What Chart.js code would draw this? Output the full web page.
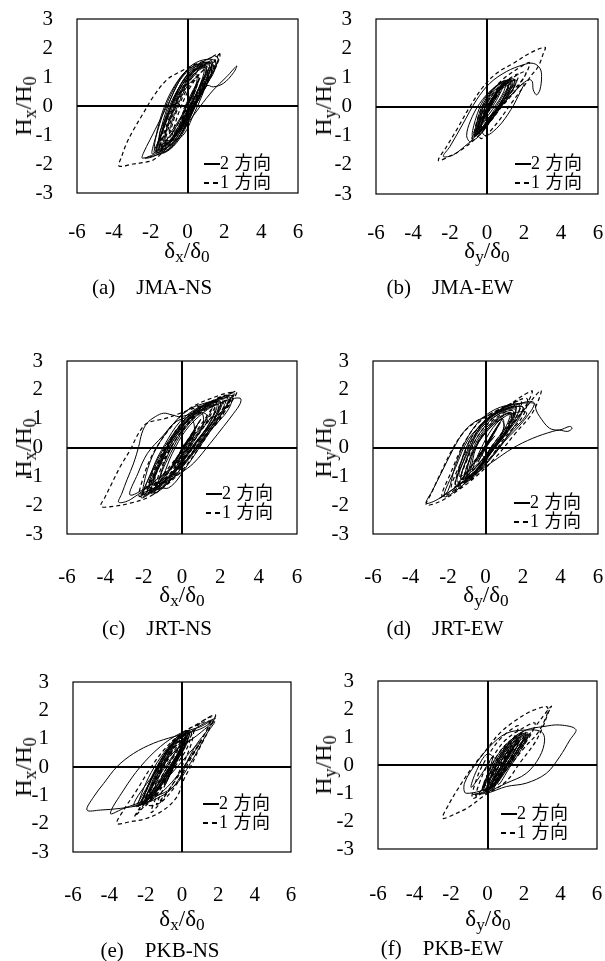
<!DOCTYPE html>
<html lang="ja">
<head>
<meta charset="UTF-8">
<title>復元力特性 - 2方向 / 1方向</title>
<script src="https://cdn.jsdelivr.net/npm/chart.js"></script>
<style>
  body {
    margin: 0;
    background: #fff;
    width: 605px;
    height: 961px;
    position: relative;
    overflow: hidden;
    font-family: 'Liberation Serif', 'Noto Sans CJK JP', serif;
    color: #000;
  }
  canvas { position: absolute; }
  .lab { position: absolute; white-space: nowrap; line-height: 1; }
  .ylab { font-size: 24px; transform: translate(-50%, -50%) rotate(-90deg); }
  .xlab { font-size: 23px; transform: translate(-50%, -50%); }
  .ttl { font-size: 21px; transform: translate(-50%, -50%); white-space: pre; }
  sub { font-size: 0.75em; vertical-align: -0.28em; line-height: 0; }
  .leg { position: absolute; font-size: 18px; line-height: 19px; white-space: nowrap; letter-spacing: 0.5px; }
  .leg div { display: flex; align-items: center; }
</style>
</head>
<body>
<script>
// 軸の範囲と目盛
const xRange = [-6, 6], xStep = 2;
const yRange = [-3, 3], yStep = 1;
const seriesNames = ['2 方向', '1 方向'];
const panelTitles = ['(a)    JMA-NS', '(b)    JMA-EW', '(c)    JRT-NS', '(d)    JRT-EW', '(e)    PKB-NS', '(f)    PKB-EW'];
const dirs = ['x', 'y', 'x', 'y', 'x', 'y'];

// [δ/δ0, H/H0] — 図から読み取った値
const jmaNS_2 = [[0,0],[0.4,0.5],[-0.2,-0.1],[0.6,0.9],[0.1,0.2],[-0.7,-0.8],
  [-1.9,-1.65],[-1.7,-1.0],[-1.3,-0.1],[-0.7,0.7],[0.1,1.3],[1.1,1.5],[1.2,1.2],[0.6,0.3],[0.0,-0.5],[-0.6,-1.2],[-1.3,-1.6],
  [-1.6,-1.4],[-1.4,-0.7],[-1.0,0.1],[-0.4,0.9],[0.4,1.35],[1.3,1.45],[0.9,0.8],[0.3,-0.1],[-0.3,-0.9],[-1.0,-1.5],
  [-2.44,-1.8],[-2.4,-1.63],[-2.04,-1.17],[-1.49,-0.48],[-0.95,0.2],[-0.41,0.9],[0.14,1.36],[0.86,1.59],[1.49,1.56],[1.45,1.2],[1.1,0.8],[0.5,0.1],[-0.3,-0.8],[-1.1,-1.45],[-1.9,-1.75],[-2.3,-1.8],
  [-1.49,-1.57],[-0.59,-1.17],[-0.05,-0.66],[0.68,-0.02],[1.4,0.55],[2.13,1.01],[2.67,1.38],[2.5,1.15],[1.95,0.78],[1.4,0.66],[1.05,0.7],
  [0.5,0.1],[-0.4,-1.1],[-1.2,-1.6],[-1.7,-1.55],[-1.2,-0.6],[-0.7,0.3],[0.0,1.1],[0.9,1.5],[1.4,1.35],[1.0,0.7],[0.4,-0.2],[-0.4,-1.1],
  [-1.5,-1.1],[-1.1,-0.3],[-0.5,0.5],[0.3,1.2],[1.0,1.3],[0.7,0.6],[0.1,-0.2],[-0.6,-1.0],[-1.4,-1.45],
  [-1.8,-1.5],[-1.5,-0.6],[-0.9,0.4],[-0.2,1.1],[0.7,1.45],[1.1,1.1],[0.5,0.1],[-0.2,-0.8],[-0.9,-1.35],
  [-1.6,-1.5],[-1.3,-0.8],[-0.9,0.0],[-0.3,0.8],[0.5,1.3],[1.2,1.4],[0.8,0.9],[0.2,0.0],[-0.5,-0.9],[-1.2,-1.45],
  [-1.7,-1.6],[-1.4,-0.9],[-1.1,-0.2],[-0.5,0.6],[0.2,1.2],[1.0,1.4],[0.9,1.0],[0.3,0.2],[-0.3,-0.6],[-1.0,-1.3],
  [-1.5,-1.35],[-1.2,-0.5],[-0.7,0.2],[-0.1,0.9],[0.7,1.35],[1.15,1.3],[0.7,0.7],[0.0,-0.2],[-0.7,-1.0],[-1.4,-1.5],
  [-1.3,-1.2],[-1.0,-0.5],[-0.5,0.3],[0.2,1.0],[0.9,1.3],[0.6,0.6],[-0.1,-0.3],[-0.8,-1.1],
  [-1.8,-1.6],[-1.5,-1.1],[-1.0,-0.3],[-0.4,0.5],[0.4,1.2],[1.3,1.5],[1.1,1.0],[0.4,0.1],[-0.4,-0.9],[-1.1,-1.5],
  [-1.2,-1.0],[-0.8,-0.2],[-0.2,0.6],[0.5,1.1],[0.4,0.6],[-0.2,-0.2],[-0.9,-0.9],
  [-1.0,-0.9],[-0.6,-0.1],[0.0,0.7],[0.6,1.0],[0.3,0.3],[-0.3,-0.5],[0,0.1]];
const jmaNS_1 = [[0,0],[0.5,0.7],[-0.3,-0.3],[0.7,1.0],[-0.5,-0.6],
  [-1.5,-1.5],[-1.3,-0.8],[-0.8,0.1],[-0.1,0.9],[0.8,1.5],[1.6,1.7],[1.5,1.3],[0.9,0.6],[0.2,-0.2],[-0.6,-1.0],
  [-1.2,-1.3],[-0.9,-0.5],[-0.4,0.3],[0.4,1.1],[1.3,1.55],[1.2,1.0],[0.5,0.2],[-0.2,-0.6],[-0.9,-1.2],
  [1.67,1.76],[1.55,1.35],[1.1,0.9],[0.4,0.1],[-0.4,-0.8],[-1.2,-1.5],[-1.86,-1.86],[-2.4,-1.95],[-2.94,-2.0],[-3.72,-2.07],[-3.58,-1.75],[-3.31,-1.29],[-2.94,-0.83],[-2.4,-0.25],[-1.86,0.32],[-1.13,0.9],[-0.41,1.18],[0.32,1.41],[1.04,1.59],[1.75,1.8],
  [1.5,1.3],[1.0,0.8],[0.2,-0.1],[-0.6,-0.9],[-1.6,-1.6],[-1.0,-0.6],[-0.4,0.4],[0.5,1.2],[1.5,1.6],[1.1,0.8],[0.3,-0.1],[-0.6,-1.0],
  [-1.4,-1.4],[-1.1,-0.6],[-0.6,0.2],[0.1,1.0],[1.0,1.5],[1.4,1.4],[0.9,0.7],[0.2,-0.1],[-0.6,-0.9],[-1.3,-1.4],
  [-1.0,-1.0],[-0.6,-0.2],[0.0,0.6],[0.8,1.2],[1.2,1.2],[0.6,0.5],[-0.1,-0.3],[-0.8,-1.0],
  [-0.8,-0.9],[-0.4,-0.1],[0.2,0.7],[1.0,1.3],[0.8,0.7],[0.1,-0.1],[-0.5,-0.8],[0,0]];

const jmaEW_2 = [[0,0],[0.5,0.4],[-0.2,-0.4],[0.7,0.5],[0.1,-0.1],[-0.5,-0.8],
  [-0.8,-1.0],[-0.6,-0.4],[-0.2,0.2],[0.5,0.7],[1.4,0.95],[1.5,0.7],[0.9,0.2],[0.3,-0.4],[-0.3,-0.9],
  [-0.6,-0.9],[-0.4,-0.2],[0.1,0.4],[0.8,0.85],[1.2,0.8],[0.8,0.2],[0.2,-0.4],[-0.4,-1.0],
  [-1.0,-1.26],[-1.82,-1.66],[-2.36,-1.71],[-2.0,-1.37],[-1.28,-0.57],[-0.56,0.23],[0.16,0.8],[1.06,1.2],[1.96,1.43],[2.5,1.48],[2.86,1.31],[2.95,1.03],[2.86,0.57],[2.68,0.4],[2.5,0.57],[2.45,0.85],[2.3,0.92],[1.96,0.8],[1.24,0.34],[0.52,-0.11],[-0.2,-0.57],
  [-0.9,-1.2],[-1.1,-1.0],[-0.9,-0.5],[-0.4,0.1],[0.3,0.6],[0.9,0.8],[0.5,0.2],[-0.3,-0.6],[-0.1,-1.0],[0.6,-0.7],[1.3,-0.1],[1.8,0.5],[2.0,0.8],[1.6,0.6],[0.9,0.1],[0.2,-0.5],
  [-0.7,-1.05],[-0.3,-0.5],[0.2,0.2],[0.9,0.7],[1.6,0.9],[1.2,0.4],[0.5,-0.2],[-0.1,-0.7],
  [-0.7,-1.0],[-0.5,-0.5],[-0.1,0.1],[0.5,0.6],[1.2,0.9],[1.3,0.7],[0.8,0.2],[0.2,-0.4],[-0.4,-0.9],
  [-0.5,-0.9],[-0.3,-0.3],[0.2,0.3],[0.8,0.7],[1.5,0.9],[1.1,0.4],[0.5,-0.1],[-0.1,-0.6],[-0.6,-1.0],
  [-0.4,-0.8],[-0.1,-0.2],[0.4,0.4],[1.0,0.8],[1.1,0.6],[0.6,0.0],[0.0,-0.5],[-0.5,-0.9],
  [-0.6,-0.9],[-0.2,-0.3],[0.3,0.3],[0.9,0.8],[1.4,0.85],[1.0,0.3],[0.4,-0.2],[-0.2,-0.8],
  [-0.3,-0.6],[0.1,0.0],[0.7,0.6],[1.2,0.8],[0.7,0.2],[0.1,-0.4],[-0.4,-0.8],
  [-0.5,-0.7],[-0.2,0.0],[0.4,0.6],[1.0,0.9],[0.9,0.5],[0.3,-0.1],[-0.3,-0.6],
  [-0.6,-0.8],[0.0,-0.1],[0.6,0.5],[1.3,0.75],[0.7,0.1],[0.0,-0.5],[0.1,0]];
const jmaEW_1 = [[0,0],[0.6,0.5],[-0.2,-0.3],[0.8,0.7],[0.3,0.1],[-0.4,-0.7],
  [-0.7,-1.0],[-0.5,-0.4],[0.0,0.3],[0.8,0.9],[1.8,1.35],[2.3,1.5],[2.0,1.0],[1.2,0.4],[0.4,-0.3],[-0.3,-0.9],
  [-1.3,-1.45],[-2.0,-1.7],[-2.63,-1.85],[-2.18,-1.37],[-1.64,-0.8],[-0.92,0],[-0.2,0.68],[0.52,1.14],[1.42,1.48],[2.32,1.83],[3.14,2.03],[3.05,1.83],[2.77,1.37],[2.41,1.08],[2.0,0.7],[1.3,0.1],[0.5,-0.6],[-0.3,-1.1],
  [-0.5,-0.8],[-0.2,-0.1],[0.4,0.5],[1.1,0.9],[1.5,0.9],[1.0,0.3],[0.3,-0.3],[-0.3,-0.8],
  [-0.6,-0.9],[-0.3,-0.3],[0.3,0.3],[0.9,0.8],[1.7,1.1],[1.3,0.5],[0.6,-0.1],[-0.1,-0.7],
  [-0.4,-0.8],[0.0,-0.2],[0.6,0.5],[1.3,0.9],[0.9,0.3],[0.2,-0.4],
  [-0.8,-1.1],[-0.4,-0.5],[0.2,0.2],[1.0,0.8],[2.1,1.2],[1.6,0.6],[0.8,0.0],[0.0,-0.6],[0,0]];

const jrtNS_2 = [[0,0],[0.6,0.5],[-0.4,-0.5],[0.9,0.9],[-0.7,-0.8],
  [-2.0,-1.7],[-1.9,-1.0],[-1.4,-0.1],[-0.6,0.7],[0.3,1.3],[1.5,1.6],[2.6,1.8],[2.4,1.3],[1.5,0.6],[0.6,-0.2],[-0.4,-1.0],[-1.3,-1.55],
  [-1.7,-1.5],[-1.5,-0.7],[-0.9,0.1],[-0.1,0.9],[0.9,1.4],[2.0,1.6],[1.8,1.1],[1.0,0.3],[0.2,-0.5],[-0.7,-1.2],
  [-1.3,-1.2],[-2.7,-1.65],[-2.3,-0.9],[-1.8,-0.2],[-1.0,0.4],[-0.3,0.9],[0.5,1.0],[0.6,0.4],[-0.1,-0.4],[-1.3,-1.1],
  [-2.7,-1.81],[-3.3,-1.9],[-3.13,-1.58],[-2.87,-1.12],[-2.52,-0.54],[-2.26,0.03],[-2.09,0.5],[-1.83,0.84],[-1.39,1.07],[-0.96,1.19],[-0.52,1.13],[-0.09,1.07],[0.6,1.2],[1.5,1.4],[2.4,1.65],[3.04,1.71],[3.04,1.53],[2.7,1.19],[2.17,0.73],[1.48,0.15],[0.61,-0.54],[-0.09,-0.89],[-0.96,-1.23],[-1.83,-1.52],[-2.2,-1.6],
  [-1.9,-1.6],[-1.2,-0.6],[-0.4,0.3],[0.5,1.1],[1.6,1.6],[2.4,1.7],[2.1,1.2],[1.2,0.3],[0.3,-0.6],[-0.7,-1.4],
  [-1.4,-1.2],[-1.0,-0.3],[-0.3,0.6],[0.7,1.3],[1.7,1.4],[1.3,0.7],[0.4,-0.1],[-0.5,-0.9],
  [-2.1,-1.75],[-1.6,-0.9],[-0.8,0.0],[0.2,0.9],[1.2,1.5],[2.2,1.5],[1.6,0.8],[0.7,-0.1],[-0.3,-0.8],[-1.2,-1.4],
  [-1.8,-1.55],[-1.4,-0.8],[-0.8,0.0],[0.0,0.8],[1.0,1.3],[2.1,1.7],[1.9,1.2],[1.1,0.5],[0.2,-0.3],[-0.8,-1.1],[-1.6,-1.6],
  [-1.6,-1.4],[-1.2,-0.6],[-0.5,0.3],[0.4,1.0],[1.4,1.45],[2.5,1.75],[2.2,1.3],[1.3,0.5],[0.4,-0.3],[-0.6,-1.0],[-1.5,-1.5],
  [-1.3,-1.3],[-0.9,-0.5],[-0.2,0.4],[0.7,1.1],[1.8,1.5],[1.5,0.9],[0.6,0.1],[-0.3,-0.7],[-1.2,-1.3],
  [-2.0,-1.65],[-1.7,-1.0],[-1.1,-0.2],[-0.3,0.6],[0.6,1.2],[1.6,1.6],[1.4,1.1],[0.5,0.3],[-0.4,-0.6],[-1.3,-1.3],
  [-1.0,-1.0],[-0.5,-0.2],[0.2,0.6],[1.1,1.2],[1.9,1.5],[1.6,0.9],[0.8,0.2],[-0.1,-0.6],[-1.0,-1.2],
  [-1.5,-1.2],[-1.0,-0.4],[-0.2,0.5],[0.8,1.2],[1.3,1.1],[0.5,0.2],[-0.4,-0.6],
  [-1.1,-1.0],[-0.6,-0.2],[0.1,0.6],[1.0,1.2],[1.1,0.8],[0.4,0.0],[-0.4,-0.7],[0,0]];
const jrtNS_1 = [[0,0],[0.7,0.6],[-0.5,-0.6],[1.0,1.0],[-0.8,-0.9],
  [-2.2,-1.7],[-2.0,-1.0],[-1.5,-0.2],[-0.7,0.6],[0.3,1.3],[1.5,1.7],[2.7,1.9],[2.3,1.4],[1.4,0.6],[0.4,-0.3],[-0.6,-1.1],[-1.5,-1.6],
  [2.5,1.85],[2.87,1.94],[2.5,1.5],[1.8,0.9],[0.9,0.0],[0.0,-0.8],[-1.0,-1.4],[-1.83,-1.75],[-2.7,-1.93],[-3.57,-2.04],[-4.23,-2.04],[-4.0,-1.7],[-3.65,-1.23],[-3.22,-0.66],[-2.7,-0.08],[-2.26,0.5],[-1.83,0.84],[-0.9,1.0],[-0.09,1.19],[1.3,1.53],[2.35,1.82],[2.7,1.9],
  [2.0,1.2],[1.0,0.4],[0.0,-0.5],[-0.9,-1.3],[-1.8,-1.5],[-1.4,-0.7],[-0.7,0.2],[0.2,1.0],[1.3,1.5],[2.3,1.8],[2.0,1.2],
  [1.5,1.0],[0.6,0.2],[-0.3,-0.7],[-1.5,-1.3],[-1.0,-0.4],[-0.3,0.5],[0.7,1.2],[1.8,1.6],
  [1.0,0.6],[0.0,-0.3],[-1.0,-1.2],[-2.0,-1.6],[-1.2,-0.7],[-0.4,0.2],[0.6,1.0],[1.6,1.4],
  [-1.6,-1.4],[-1.2,-0.5],[-0.4,0.4],[0.6,1.1],[1.7,1.6],[2.5,1.8],[2.1,1.1],[1.1,0.3],[0.1,-0.5],[-0.9,-1.2],
  [-1.3,-1.2],[-0.8,-0.3],[0.0,0.6],[1.0,1.3],[2.0,1.6],[1.6,0.9],[0.6,0.0],[-0.4,-0.8],[0.6,0.4],[0,0]];

const jrtEW_2 = [[0,0],[0.5,0.6],[-0.4,-0.5],[0.8,0.9],[-0.8,-0.7],
  [-1.5,-1.2],[-1.3,-0.5],[-0.8,0.3],[-0.1,0.9],[0.8,1.3],[1.8,1.5],[1.6,1.0],[0.8,0.3],[0.0,-0.4],[-0.8,-1.0],
  [-1.0,-1.0],[-0.8,-0.3],[-0.3,0.4],[0.4,0.9],[1.3,1.2],[1.0,0.6],[0.3,-0.1],[-0.4,-0.7],
  [0.0,-0.5],[-1.2,-1.3],[-2.2,-1.7],[-1.6,-0.7],[-0.9,0.3],[0.0,0.9],[1.0,1.3],[2.0,1.4],[1.6,0.9],[0.5,0.0],[-0.7,-0.9],
  [-2.45,-1.76],[-3.16,-1.93],[-2.81,-1.47],[-2.28,-0.78],[-1.74,-0.08],[-1.21,0.5],[-0.68,0.84],[0.04,1.08],[0.75,1.25],[1.64,1.48],[2.35,1.6],[2.61,1.54],[2.7,1.3],[2.88,1.08],[3.41,0.67],[3.95,0.61],[4.48,0.73],[4.62,0.67],[4.39,0.56],[3.95,0.6],[3.59,0.56],[2.52,0.32],[1.46,-0.02],[0.39,-0.49],[-0.5,-0.89],[-1.39,-1.3],[-2.45,-1.76],
  [-2.0,-1.5],[-1.6,-0.6],[-1.0,0.3],[-0.2,1.0],[0.8,1.4],[2.2,1.55],[2.6,1.5],[2.0,0.9],[1.0,0.2],[0.0,-0.6],[-1.0,-1.2],
  [-0.8,-0.8],[-0.5,0.0],[0.1,0.6],[0.9,1.0],[0.9,0.5],[0.2,-0.1],[-0.4,-0.6],
  [-1.3,-1.1],[-0.9,-0.2],[-0.3,0.7],[0.6,1.2],[1.6,1.4],[1.3,0.7],[0.4,-0.1],[-0.5,-0.8],
  [-1.3,-1.1],[-1.0,-0.4],[-0.5,0.3],[0.2,0.9],[1.1,1.3],[1.6,1.3],[1.2,0.7],[0.5,0.0],[-0.3,-0.7],[-1.0,-1.1],
  [-1.1,-0.9],[-0.7,-0.2],[-0.1,0.5],[0.7,1.0],[1.4,1.2],[1.1,0.6],[0.3,-0.1],[-0.5,-0.8],
  [-1.6,-1.3],[-1.2,-0.5],[-0.6,0.4],[0.2,1.0],[1.2,1.35],[2.0,1.4],[1.6,0.8],[0.7,0.0],[-0.2,-0.7],[-1.1,-1.2],
  [-0.9,-0.8],[-0.6,-0.1],[0.0,0.5],[0.8,0.95],[1.0,0.7],[0.4,0.1],[-0.3,-0.5],
  [-1.4,-1.0],[-0.9,-0.1],[-0.2,0.7],[0.7,1.15],[1.5,1.25],[1.0,0.5],[0.1,-0.2],[-0.7,-0.8],
  [0.2,0.5],[1.1,1.1],[2.2,1.2],[1.2,0.4],[0.2,-0.4],[-0.2,-0.2],[0.5,0.4],[0,0]];
const jrtEW_1 = [[0,0],[0.6,0.7],[-0.5,-0.5],[0.9,1.0],[-0.9,-0.8],
  [-1.6,-1.3],[-1.3,-0.5],[-0.7,0.4],[0.1,1.0],[1.1,1.4],[2.2,1.7],[2.0,1.1],[1.1,0.4],[0.2,-0.4],[-0.8,-1.1],
  [2.6,1.75],[2.97,1.98],[2.8,1.6],[2.4,1.1],[1.6,0.5],[0.6,-0.3],[-0.5,-1.0],[-1.5,-1.5],[-2.45,-1.88],[-3.16,-1.99],[-2.9,-1.6],[-2.4,-0.9],[-1.8,-0.1],[-1.2,0.5],[-0.5,0.9],[0.4,1.2],[1.3,1.5],[2.0,1.8],[2.5,1.95],
  [2.0,1.3],[1.0,0.5],[-0.1,-0.4],[-1.1,-1.0],[-0.7,-0.2],[-0.1,0.5],[0.7,1.0],[1.5,1.2],[1.1,0.6],[0.3,-0.1],[-0.5,-0.8],
  [-1.3,-1.1],[-0.9,-0.3],[-0.3,0.5],[0.5,1.0],[1.4,1.3],[1.2,0.8],[0.4,0.1],[-0.4,-0.7],
  [-1.8,-1.4],[-1.3,-0.5],[-0.6,0.4],[0.3,1.1],[1.6,1.5],[1.3,0.8],[0.3,-0.1],[-0.8,-1.0],
  [-2.3,-1.7],[-1.8,-0.8],[-1.1,0.2],[-0.3,0.9],[0.8,1.35],[1.9,1.6],[1.5,0.9],[0.5,0.0],[-0.6,-0.9],[-1.6,-1.5],[-0.3,-0.2],[0,0]];

const pkbNS_2 = [[-0.5,0],[-0.1,0.6],[-0.9,-0.6],[0.1,0.9],
  [-2.4,-1.35],[-2.2,-0.9],[-1.7,-0.2],[-1.0,0.5],[-0.2,1.1],[0.4,1.25],[0.2,0.8],[-0.5,0.0],[-1.2,-0.7],[-1.9,-1.25],
  [-2.2,-1.3],[-1.9,-0.7],[-1.4,0.0],[-0.7,0.7],[0.1,1.15],[0.3,0.9],[-0.3,0.2],[-1.0,-0.5],[-1.7,-1.1],
  [-0.2,0.7],[0.5,1.25],
  [1.83,1.72],[1.2,1.4],[0.28,1.19],[-0.46,1.07],[-1.56,0.84],[-2.66,0.48],[-3.58,0.01],[-4.31,-0.58],[-4.86,-1.05],[-5.23,-1.52],[-4.5,-1.52],[-3.39,-1.46],[-2.29,-1.34],[-1.38,-1.11],[-0.64,-0.81],[-0.09,-0.34],[0.28,0.19],[0.8,0.8],[1.4,1.3],[1.74,1.66],
  [1.01,1.42],[-0.09,1.19],[-1.19,0.72],[-2.29,0.01],[-3.21,-0.81],[-3.94,-1.64],[-3.21,-1.46],[-1.93,-1.16],[-0.46,-0.69],[0.46,0.13],[1.38,1.19],[1.8,1.6],
  [0.8,1.1],[-0.5,0.5],[-1.6,-0.3],[-2.66,-1.34],[-1.8,-1.2],[-0.8,-0.7],[0.1,0.0],[1.0,0.9],
  [-2.0,-1.2],[-1.7,-0.6],[-1.1,0.2],[-0.4,0.9],[0.3,1.2],[-0.1,0.5],[-0.8,-0.2],[-1.5,-0.9],
  [-2.5,-1.4],[-2.0,-0.8],[-1.3,0.0],[-0.5,0.8],[0.2,1.2],[0.0,0.7],[-0.7,-0.1],[-1.5,-0.9],
  [-2.3,-1.35],[-2.0,-0.9],[-1.5,-0.2],[-0.9,0.5],[-0.2,1.0],[0.3,1.15],[0.0,0.7],[-0.6,0.0],[-1.3,-0.7],[-2.0,-1.25],
  [-2.1,-1.25],[-1.8,-0.8],[-1.3,-0.1],[-0.7,0.6],[0.0,1.1],[0.2,0.95],[-0.4,0.3],[-1.1,-0.5],[-1.8,-1.1],
  [-1.9,-1.15],[-1.6,-0.6],[-1.0,0.1],[-0.4,0.8],[0.2,1.15],[-0.1,0.6],[-0.8,-0.1],[-1.5,-0.8],[-2.2,-1.3],
  [-1.7,-1.0],[-1.3,-0.4],[-0.8,0.3],[-0.2,0.9],[0.1,0.85],[-0.5,0.2],[-1.2,-0.5],
  [-2.4,-1.4],[-2.1,-1.0],[-1.6,-0.3],[-1.0,0.4],[-0.3,1.0],[0.4,1.2],[0.1,0.7],[-0.6,0.0],[-1.4,-0.8],
  [-1.8,-1.1],[-1.5,-0.5],[-0.9,0.3],[-0.2,1.0],[0.1,0.9],[-0.6,0.1],[-1.3,-0.6],[-0.5,0]];
const pkbNS_1 = [[-0.6,0],[0.0,0.8],[-1.0,-0.6],[0.2,1.0],
  [-2.3,-1.5],[-2.0,-0.9],[-1.5,-0.2],[-0.8,0.6],[0.0,1.2],[0.9,1.5],[1.5,1.6],[1.1,1.0],[0.3,0.2],[-0.5,-0.6],[-1.4,-1.3],
  [0.8,1.4],[1.83,1.84],[1.56,1.42],[1.01,0.72],[0.46,0.0],[0.09,-0.46],[-0.28,-1.05],[-1.01,-1.52],[-1.93,-1.81],[-2.84,-1.93],[-3.58,-1.99],[-3.21,-1.52],[-2.48,-0.81],[-1.8,-0.1],[-1.0,0.6],[-0.2,1.1],[0.8,1.5],[1.6,1.75],
  [1.2,1.1],[0.4,0.2],[-0.4,-0.7],[-1.3,-1.3],[-2.0,-1.3],[-1.6,-0.6],[-1.0,0.1],[-0.3,0.8],[0.5,1.3],[0.3,0.7],[-0.4,0.0],[-1.2,-0.8],
  [-2.1,-1.4],[-1.7,-0.7],[-1.1,0.1],[-0.4,0.8],[0.4,1.3],[0.2,0.8],[-0.5,0.0],[-1.3,-0.8],
  [-1.8,-1.2],[-1.4,-0.5],[-0.8,0.3],[-0.1,0.9],[0.3,1.0],[-0.3,0.3],[-1.0,-0.5],
  [-2.6,-1.75],[-2.0,-1.1],[-1.2,-0.2],[-0.4,0.6],[0.6,1.3],[0.5,0.8],[-0.1,-0.1],[-0.8,-0.9],[-1.7,-1.6],[-0.9,-0.3],[-0.6,0]];

const pkbEW_2 = [[0.8,0],[1.3,0.6],[0.3,-0.6],[1.6,0.8],
  [-0.2,-0.95],[0.0,-0.5],[0.5,0.1],[1.1,0.7],[1.9,1.1],[2.2,1.05],[1.8,0.6],[1.2,0.0],[0.6,-0.6],[0.1,-0.95],
  [0.0,-0.9],[0.3,-0.3],[0.8,0.3],[1.4,0.8],[2.0,1.0],[1.6,0.5],[1.0,-0.1],[0.4,-0.7],
  [-1.17,-1.01],[-1.26,-0.65],[-0.62,0.06],[0.11,0.65],[1.03,1.13],[2.12,1.25],[2.95,1.19],[3.13,0.89],[2.86,0.3],[2.12,-0.3],[1.03,-0.65],[0.0,-0.95],[-0.8,-1.05],
  [0.0,-1.0],[1.03,-0.77],[2.12,-0.65],[3.22,-0.3],[3.96,0.3],[4.51,0.89],[4.84,1.27],[3.96,1.43],[3.04,1.37],[2.12,1.25],[1.3,0.9],[0.6,0.2],
  [0.0,0.4],[-0.6,-0.2],[-0.9,-0.8],[-0.3,-0.3],[0.3,0.3],
  [-0.3,-0.9],[0.1,-0.2],[0.6,0.4],[1.3,0.9],[2.2,1.15],[1.9,0.8],[1.3,0.2],[0.7,-0.4],[0.1,-0.9],
  [0.2,-0.8],[0.5,-0.2],[1.0,0.4],[1.7,0.9],[1.5,0.5],[0.9,-0.1],[0.4,-0.6],
  [-0.1,-0.9],[0.2,-0.4],[0.6,0.2],[1.2,0.7],[1.9,1.05],[2.0,0.9],[1.5,0.4],[0.9,-0.2],[0.3,-0.8],
  [0.1,-0.85],[0.4,-0.3],[0.9,0.3],[1.5,0.85],[2.1,1.1],[1.7,0.6],[1.1,0.0],[0.5,-0.6],[-0.1,-0.95],
  [-0.2,-0.8],[0.2,-0.2],[0.7,0.4],[1.4,0.9],[1.8,0.95],[1.3,0.3],[0.7,-0.3],[0.2,-0.8],
  [0.0,-0.7],[0.4,-0.1],[0.9,0.5],[1.6,1.0],[1.4,0.6],[0.9,0.0],[0.3,-0.6],
  [0.3,-0.9],[0.6,-0.4],[1.1,0.2],[1.7,0.7],[2.2,1.0],[1.8,0.5],[1.2,-0.1],[0.6,-0.7],
  [0.7,-0.1],[1.5,0.7],[2.3,1.1],[1.7,0.5],[0.9,-0.3],[0.2,-0.7],[1.0,0.2],[1.6,0.8],[0.8,0]];
const pkbEW_1 = [[0.7,0],[1.3,0.7],[0.3,-0.6],[1.7,0.9],
  [-0.6,-1.1],[-0.3,-0.4],[0.3,0.3],[1.0,0.9],[1.9,1.3],[2.6,1.5],[2.3,1.0],[1.5,0.3],[0.7,-0.4],[-0.1,-1.0],
  [3.0,1.7],[3.5,2.1],[3.32,1.85],[3.04,1.37],[2.6,0.8],[1.8,0.1],[1.0,-0.6],[-0.26,-1.13],[-0.99,-1.49],[-1.72,-1.73],[-2.45,-1.9],[-2.09,-1.37],[-1.54,-0.77],[-0.81,-0.06],[-0.07,0.54],[0.66,1.13],[1.58,1.61],[2.49,1.95],[3.3,2.05],
  [2.86,1.25],[2.0,0.6],[1.0,-0.2],[0.0,-0.9],[-0.3,-0.9],[0.1,-0.2],[0.7,0.5],[1.5,1.0],[2.1,1.2],[1.7,0.6],[1.0,-0.1],[0.3,-0.7],
  [-0.2,-0.9],[0.2,-0.2],[0.8,0.5],[1.5,1.0],[2.0,1.1],[1.6,0.5],[0.9,-0.2],[0.3,-0.8],
  [0.0,-0.8],[0.4,-0.2],[1.0,0.4],[1.7,0.9],[1.3,0.3],[0.6,-0.4],
  [-0.8,-1.2],[-0.6,-0.5],[0.0,0.3],[0.8,1.0],[1.7,1.4],[1.2,0.7],[0.4,-0.1],[-0.3,-0.8],[0.7,0]];

// 各パネルの配置（枠の left, top, right, bottom と文字位置）
const layoutInfo = [
  { box: [77, 19, 298, 193],  tickPad: 27, ylab: [23, 106], xlab: [187, 250], ttl: [152, 287], leg: [204, 154] },
  { box: [376, 19, 598, 194], tickPad: 27, ylab: [323, 106], xlab: [487, 250], ttl: [450, 287], leg: [515, 154] },
  { box: [67, 361, 297, 534], tickPad: 31, ylab: [23, 448], xlab: [182, 594], ttl: [157, 628], leg: [206, 484] },
  { box: [373, 361, 598, 534], tickPad: 31, ylab: [323, 448], xlab: [486, 594], ttl: [445, 628], leg: [514, 493] },
  { box: [73, 682, 291, 852], tickPad: 31, ylab: [23, 767], xlab: [182, 918], ttl: [160, 950], leg: [203, 794] },
  { box: [378, 681, 597, 849], tickPad: 33, ylab: [323, 765], xlab: [488, 918], ttl: [442, 948], leg: [501, 804] }
];
const panelData = [[jmaNS_2, jmaNS_1], [jmaEW_2, jmaEW_1], [jrtNS_2, jrtNS_1], [jrtEW_2, jrtEW_1], [pkbNS_2, pkbNS_1], [pkbEW_2, pkbEW_1]];

const toXY = arr => arr.map(p => ({ x: p[0], y: p[1] }));

// 枠線
const framePlugin = {
  id: 'frame',
  afterDraw(chart) {
    const { ctx, chartArea: a } = chart;
    ctx.save();
    ctx.strokeStyle = '#000';
    ctx.lineWidth = 1.2;
    ctx.strokeRect(a.left, a.top, a.right - a.left, a.bottom - a.top);
    ctx.restore();
  }
};

const axisFont = { family: 'Liberation Serif', size: 21 };
const zeroLine = c => (c.tick && c.tick.value === 0) ? '#000' : 'rgba(0,0,0,0)';
const Y_W = 77, TOP = 19, BOT = 62, RIGHT = 10;

layoutInfo.forEach((L, i) => {
  const [bl, bt, br, bb] = L.box;
  const cv = document.createElement('canvas');
  cv.width = (br - bl) + Y_W + RIGHT;
  cv.height = (bb - bt) + TOP + BOT;
  cv.style.left = (bl - Y_W) + 'px';
  cv.style.top = (bt - TOP) + 'px';
  document.body.appendChild(cv);

  new Chart(cv, {
    type: 'scatter',
    data: {
      datasets: [
        { label: seriesNames[0], data: toXY(panelData[i][0]), showLine: true, borderColor: '#000', borderWidth: 1, pointRadius: 0, tension: 0.35 },
        { label: seriesNames[1], data: toXY(panelData[i][1]), showLine: true, borderColor: '#000', borderWidth: 1.2, borderDash: [4, 3], pointRadius: 0, tension: 0.35 }
      ]
    },
    options: {
      responsive: false,
      animation: false,
      devicePixelRatio: 1,
      layout: { padding: { left: 0, top: TOP, right: RIGHT, bottom: 0 } },
      plugins: { legend: { display: false }, tooltip: { enabled: false } },
      scales: {
        x: {
          type: 'linear', min: xRange[0], max: xRange[1],
          ticks: { stepSize: xStep, padding: L.tickPad, font: axisFont, color: '#000', maxRotation: 0, autoSkip: false },
          grid: { drawTicks: false, color: zeroLine, lineWidth: 2 },
          border: { display: false },
          afterFit(s) { s.height = BOT; s.paddingLeft = 0; s.paddingRight = 0; }
        },
        y: {
          type: 'linear', min: yRange[0], max: yRange[1],
          ticks: { stepSize: yStep, padding: 24, font: axisFont, color: '#000', autoSkip: false },
          grid: { drawTicks: false, color: zeroLine, lineWidth: 2 },
          border: { display: false },
          afterFit(s) { s.width = Y_W; s.paddingTop = 0; s.paddingBottom = 0; }
        }
      }
    },
    plugins: [framePlugin]
  });

  const d = dirs[i];
  const addLab = (cls, html, pos) => {
    const el = document.createElement('div');
    el.className = 'lab ' + cls;
    el.innerHTML = html;
    el.style.left = pos[0] + 'px';
    el.style.top = pos[1] + 'px';
    document.body.appendChild(el);
  };
  addLab('ylab', 'H<sub>' + d + '</sub>/H<sub>0</sub>', L.ylab);
  addLab('xlab', 'δ<sub>' + d + '</sub>/δ<sub>0</sub>', L.xlab);
  addLab('ttl', panelTitles[i], L.ttl);

  // 凡例
  const leg = document.createElement('div');
  leg.className = 'leg';
  leg.style.left = L.leg[0] + 'px';
  leg.style.top = L.leg[1] + 'px';
  leg.innerHTML =
    '<div><svg width="16" height="10"><line x1="0" y1="5" x2="16" y2="5" stroke="#000" stroke-width="2"/></svg>' + seriesNames[0] + '</div>' +
    '<div><svg width="16" height="10"><line x1="0" y1="5" x2="16" y2="5" stroke="#000" stroke-width="2" stroke-dasharray="5,4"/></svg>' + seriesNames[1] + '</div>';
  document.body.appendChild(leg);
});
</script>
</body>
</html>
